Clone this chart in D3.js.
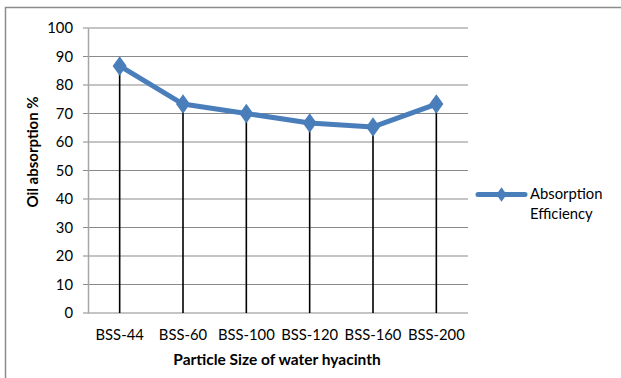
<!DOCTYPE html>
<html><head><meta charset="utf-8">
<script src="https://cdn.jsdelivr.net/npm/d3@7"></script>
<style>body{margin:0;background:#fff;} text{font-family:Lato,"Open Sans",sans-serif;}</style>
</head><body><svg id="c" width="621" height="378"></svg>
<script>
const categories = ["BSS-44","BSS-60","BSS-100","BSS-120","BSS-160","BSS-200"];
const values = [86.7, 73.3, 70.0, 66.7, 65.3, 73.3];
const yTicks = [0,10,20,30,40,50,60,70,80,90,100];
const seriesName = ["Absorption","Efficiency"];

const svg = d3.select("#c");
const L = 88, R = 468, T = 28, B = 313;
const FS = 14.8;
svg.append("rect").attr("width",621).attr("height",378).attr("fill","#fff");
// outer border (left and top only visible)
svg.append("path").attr("d","M5.5,378 V7.5 H621").attr("fill","none").attr("stroke","#8c8c8c").attr("stroke-width",1.5);

const x = d3.scaleBand().domain(categories).range([L,R]);
const y = d3.scaleLinear().domain([0,100]).range([B,T]);

// gridlines
svg.append("g").selectAll("line").data(yTicks).join("line")
  .attr("x1",L-5).attr("x2",R).attr("y1",d=>y(d)).attr("y2",d=>y(d))
  .attr("stroke","#8a8a8a").attr("stroke-width",1.2);
// y axis
const ya = svg.append("g").attr("transform",`translate(${L},0)`).call(d3.axisLeft(y).tickValues(yTicks).tickSize(0).tickPadding(15));
ya.select(".domain").attr("stroke","#a6a6a6").attr("stroke-width",1.5);
ya.selectAll("text").attr("font-size",FS).attr("fill","#000").style("font-family","Lato,sans-serif");
// x axis labels
const xa = svg.append("g").attr("transform",`translate(0,${B})`).call(d3.axisBottom(x).tickSize(0).tickPadding(16));
xa.select(".domain").remove();
xa.selectAll("text").attr("font-size",FS).attr("fill","#000").style("font-family","Lato,sans-serif");

// drop lines
const cx = d => x(d) + x.bandwidth()/2;
svg.append("g").selectAll("line").data(categories).join("line")
  .attr("x1",cx).attr("x2",cx).attr("y1",(d,i)=>y(values[i])).attr("y2",y(0))
  .attr("stroke","#000").attr("stroke-width",1.6);

// series line
const line = d3.line().x((d,i)=>cx(categories[i])).y(d=>y(d));
svg.append("path").datum(values).attr("d",line).attr("fill","none")
  .attr("stroke","#4a7ebb").attr("stroke-width",5).attr("stroke-linejoin","round");
const diamond = d3.symbol().type(d3.symbolDiamond).size(110);
svg.append("g").selectAll("path").data(values).join("path")
  .attr("transform",(d,i)=>`translate(${cx(categories[i])},${y(d)}) scale(1.25,1)`)
  .attr("d",diamond).attr("fill","#4a7ebb");

// axis titles
svg.append("text").attr("transform","translate(38,152) rotate(-90)").attr("text-anchor","middle")
  .attr("font-size",15).attr("font-weight","bold").text("Oil absorption %");
svg.append("text").attr("x",277).attr("y",365).attr("text-anchor","middle")
  .attr("font-size",15.5).attr("font-weight","bold").text("Particle Size of water hyacinth");

// legend
svg.append("line").attr("x1",478).attr("x2",525).attr("y1",194.5).attr("y2",194.5)
  .attr("stroke","#4a7ebb").attr("stroke-width",5).attr("stroke-linecap","round");
svg.append("path").attr("transform","translate(501.5,194.5) scale(1.25,1)").attr("d",d3.symbol().type(d3.symbolDiamond).size(60)).attr("fill","#4a7ebb");
svg.append("g").selectAll("text").data(seriesName).join("text")
  .attr("x",530).attr("y",(d,i)=>199+i*20).attr("font-size",FS).text(d=>d);
</script></body></html>
